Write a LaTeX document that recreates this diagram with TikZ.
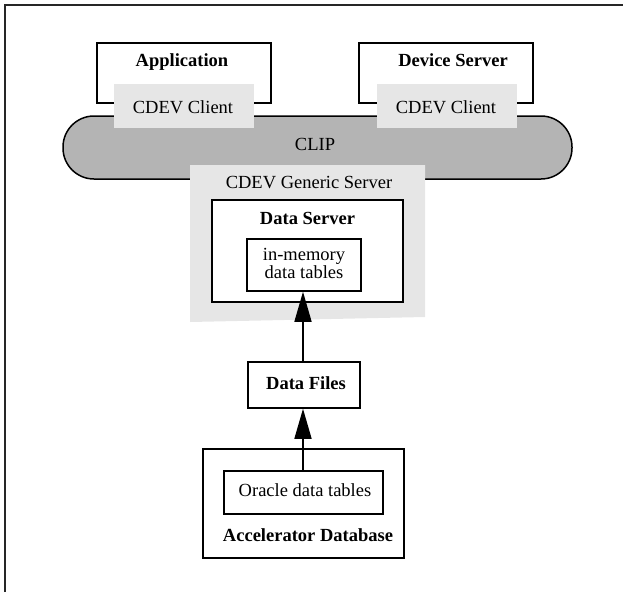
\documentclass[tikz,border=0pt]{standalone}
\usepackage{fontspec}
\setmainfont{Liberation Serif}
\usetikzlibrary{arrows.meta}
\definecolor{clipgray}{HTML}{B4B4B4}
\definecolor{lightpanel}{HTML}{E6E6E6}
\begin{document}
\begin{tikzpicture}[x=1pt,y=-1pt,
  font=\fontsize{18.5}{20}\selectfont,
  box/.style={draw=black,line width=1.5pt,fill=white,inner sep=0pt,rectangle},
  panel/.style={fill=lightpanel,draw=none,inner sep=0pt,rectangle},
  txt/.style={inner sep=0pt,anchor=base},
  btxt/.style={txt,font=\fontsize{18.5}{20}\selectfont\bfseries},
  flow/.style={line width=1.5pt,-{Triangle[length=30pt,width=17pt]}}]
\useasboundingbox (0,0) rectangle (623,592);
% page frame (top and left edges)
\draw[line width=2pt,black!85] (4.5,592) -- (4.5,5) -- (623,5);

% client programs
\node[box,minimum width=174pt,minimum height=60pt] (app) at (184,73) {};
\node[box,minimum width=174pt,minimum height=60pt] (devsrv) at (446,73) {};
\node[btxt] (applbl) at (182,66) {Application};
\node[btxt] (devlbl) at (453,66) {Device Server};

% CLIP bus
\node[draw=black,line width=1.5pt,fill=clipgray,rounded corners=31pt,
      minimum width=509pt,minimum height=63pt,inner sep=0pt] (clip) at (317.5,147.5) {};
\node[txt] (cliplbl) at (315,150) {CLIP};

% CDEV clients
\node[panel,minimum width=140pt,minimum height=44pt] (cl1) at (184,106) {};
\node[panel,minimum width=140pt,minimum height=44pt] (cl2) at (447,106) {};
\node[txt] (cl1lbl) at (183,113) {CDEV Client};
\node[txt] (cl2lbl) at (446,113) {CDEV Client};

% generic server with its data server
\fill[lightpanel] (190,165) -- (425,165) -- (425,317) -- (190,322) -- cycle;
\node[txt] (genlbl) at (309,188) {CDEV Generic Server};
\node[box,minimum width=191pt,minimum height=102pt] (dsrv) at (307.5,251) {};
\node[btxt] (dsrvlbl) at (307.5,224) {Data Server};
\node[box,minimum width=114pt,minimum height=52pt] (mem) at (304,265) {};
\node[txt] (memlbl1) at (304,260) {in-memory};
\node[txt] (memlbl2) at (304,278) {data tables};

% data files
\node[box,minimum width=112pt,minimum height=46pt] (files) at (304,385) {};
\node[btxt] (fileslbl) at (306,389) {Data Files};

% accelerator database
\node[box,minimum width=201pt,minimum height=109pt] (accdb) at (303.5,503.5) {};
\node[box,minimum width=159pt,minimum height=43pt] (oracle) at (303.5,492.5) {};
\node[txt] (oraclelbl) at (305,496) {Oracle data tables};
\node[btxt] (acclbl) at (308,541) {Accelerator Database};

% data flow
\draw[flow] (files.north -| 303,0) -- (mem.south -| 303,0);
\draw[flow] (oracle.north -| 303,0) -- (files.south -| 303,0);
\end{tikzpicture}
\end{document}
